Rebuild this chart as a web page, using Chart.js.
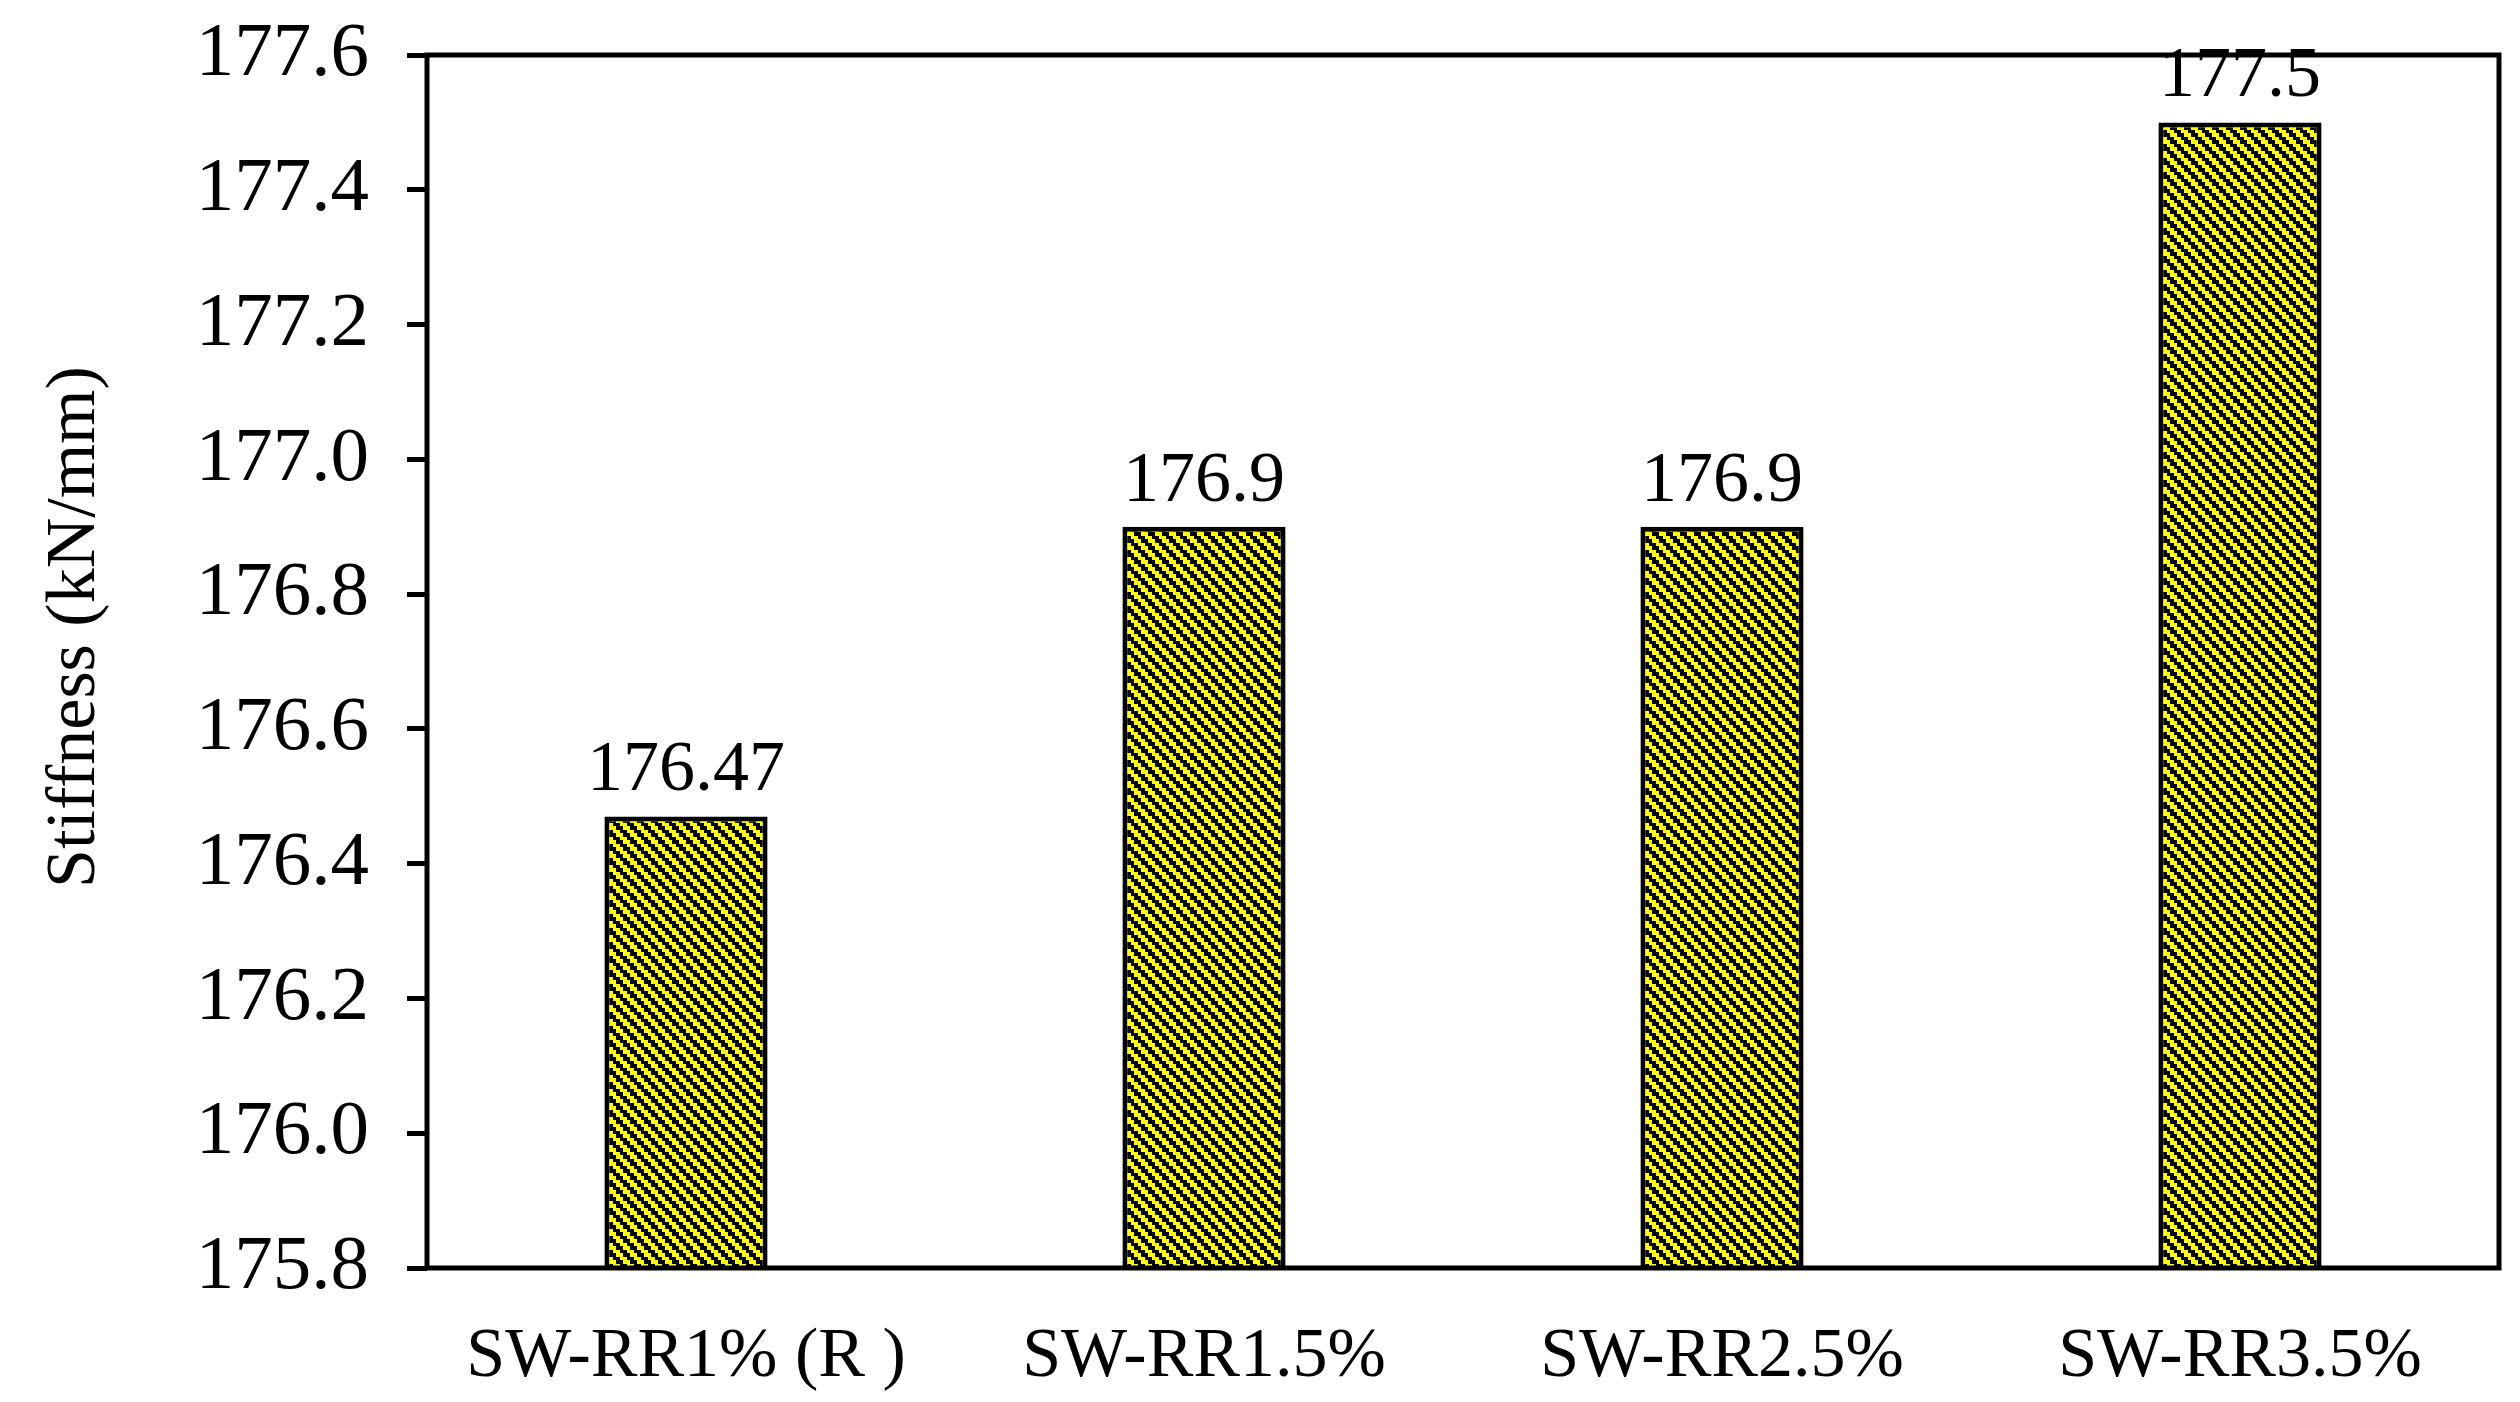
<!DOCTYPE html>
<html><head><meta charset="utf-8">
<script src="https://cdn.jsdelivr.net/npm/chart.js@4.4.1/dist/chart.umd.min.js"></script>
<style>html,body{margin:0;padding:0;background:#fff;overflow:hidden}#wrap{width:2520px;height:1402px;position:relative;background:#fff}</style>
</head><body><div id="wrap"><canvas id="c" width="2520" height="1402"></canvas></div>
<script>
const categories = ["SW-RR1% (R )", "SW-RR1.5%", "SW-RR2.5%", "SW-RR3.5%"];
const stiffness = [176.47, 176.9, 176.9, 177.5];
const yTickValues = [175.8, 176.0, 176.2, 176.4, 176.6, 176.8, 177.0, 177.2, 177.4, 177.6];
const yTitle = "Stiffness (kN/mm)";

const FONT = '"Liberation Serif","Times New Roman",serif';

function makePattern() {
  const p = 14, cell = 3.5;
  const cv = document.createElement('canvas');
  cv.width = p; cv.height = p;
  const cx = cv.getContext('2d');
  const img = cx.createImageData(p, p);
  for (let y = 0; y < p; y++) {
    for (let x = 0; x < p; x++) {
      const bx = Math.floor(x / cell), by = Math.floor(y / cell);
      const k = (((bx - by) % 4) + 4) % 4;
      const i = (y * p + x) * 4;
      if (k < 2) { img.data[i] = 0; img.data[i+1] = 0; img.data[i+2] = 0; }
      else { img.data[i] = 255; img.data[i+1] = 255; img.data[i+2] = 0; }
      img.data[i+3] = 255;
    }
  }
  cx.putImageData(img, 0, 0);
  return document.getElementById('c').getContext('2d').createPattern(cv, 'repeat');
}

const deco = {
  id: 'deco',
  afterDraw(chart) {
    const { ctx, chartArea: a } = chart;
    ctx.save();
    ctx.strokeStyle = '#000';
    ctx.lineWidth = 5;
    ctx.strokeRect(a.left, a.top, a.right - a.left, a.bottom - a.top);
    const meta = chart.getDatasetMeta(0);
    ctx.fillStyle = '#000';
    ctx.font = '72px ' + FONT;
    ctx.textAlign = 'center';
    ctx.textBaseline = 'alphabetic';
    meta.data.forEach((bar, i) => {
      ctx.fillText(String(stiffness[i]), bar.x, bar.y - 26);
    });
    ctx.translate(76, 627);
    ctx.rotate(-Math.PI / 2);
    ctx.font = '70px ' + FONT;
    ctx.textBaseline = 'middle';
    ctx.fillText(yTitle, 0, 0);
    ctx.restore();
  }
};

new Chart(document.getElementById('c'), {
  type: 'bar',
  data: {
    labels: categories,
    datasets: [{
      data: stiffness,
      backgroundColor: makePattern(),
      borderColor: '#000',
      borderWidth: 5,
      borderSkipped: 'bottom',
      categoryPercentage: 1,
      barPercentage: 0.315
    }]
  },
  options: {
    responsive: false,
    devicePixelRatio: 1,
    animation: false,
    events: [],
    layout: { padding: { left: 0, top: 55, right: 21, bottom: 0 } },
    plugins: { legend: { display: false }, tooltip: { enabled: false } },
    scales: {
      x: {
        grid: { display: false },
        border: { display: false },
        ticks: { color: '#000', font: { family: FONT, size: 70 }, padding: 40, maxRotation: 0, autoSkip: false },
        afterFit(s) { s.height = 134; s.paddingLeft = 0; s.paddingRight = 0; }
      },
      y: {
        min: 175.8, max: 177.6,
        afterBuildTicks(s) { s.ticks = yTickValues.map(v => ({ value: v })); },
        grid: { drawOnChartArea: false, drawTicks: true, tickLength: 20, lineWidth: 5, color: '#000' },
        border: { display: false },
        ticks: { color: '#000', font: { family: FONT, size: 77 }, padding: 38, callback: v => Number(v).toFixed(1) },
        afterFit(s) { s.width = 427; s.paddingTop = 0; s.paddingBottom = 0; }
      }
    }
  },
  plugins: [deco]
});
</script></body></html>
